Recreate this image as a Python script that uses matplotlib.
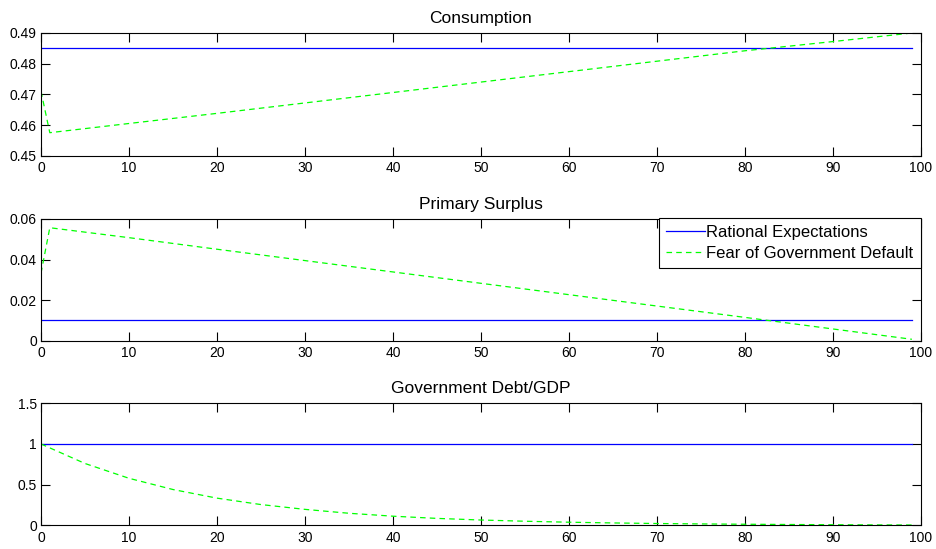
import numpy as np
import matplotlib
matplotlib.use("Agg")
import matplotlib.pyplot as plt

plt.rcParams['font.family'] = ['Liberation Sans', 'DejaVu Sans']
plt.rcParams['lines.scale_dashes'] = False

# periods and series
t_flat = [0, 99]
t_knots = [0, 1, 10, 20, 30, 40, 50, 60, 70, 80, 90, 99]

cons_re = [0.485, 0.485]
cons_fear = [0.471, 0.4575, 0.4605, 0.4638, 0.4672, 0.4706, 0.4740, 0.4774, 0.4808, 0.4842, 0.4872, 0.4900]

surplus_re = [0.01, 0.01]
surplus_fear = [0.0333, 0.0557, 0.0508, 0.0451, 0.0395, 0.0339, 0.0283, 0.0227, 0.0171, 0.0115, 0.0058, 0.0007]

t_debt = [0, 5, 10, 15, 20, 25, 30, 35, 40, 45, 50, 55, 60, 65, 70, 75, 80, 85, 90, 95, 99]
debt_re = [1.0, 1.0]
debt_fear = [1.0, 0.76, 0.578, 0.44, 0.334, 0.255, 0.196, 0.148, 0.112, 0.085, 0.065,
             0.05, 0.038, 0.029, 0.022, 0.017, 0.013, 0.01, 0.007, 0.005, 0.004]

titles = ['Consumption', 'Primary Surplus', 'Government Debt/GDP']
yticks = [[0.45, 0.46, 0.47, 0.48, 0.49], [0, 0.02, 0.04, 0.06], [0, 0.5, 1, 1.5]]
ylabels = [['0.45', '0.46', '0.47', '0.48', '0.49'], ['0', '0.02', '0.04', '0.06'], ['0', '0.5', '1', '1.5']]

fig = plt.figure(figsize=(9.36, 5.49), dpi=100)
W, H = 936, 549
boxes = [(41, 33, 920.7, 155.7), (41, 219, 920.7, 340.7), (41, 403.3, 920.7, 525.3)]
axes = []
for (x0, y0, x1, y1) in boxes:
    axes.append(fig.add_axes([x0 / W, 1 - y1 / H, (x1 - x0) / W, (y1 - y0) / H]))

data = [
    (t_flat, cons_re, t_knots, cons_fear),
    (t_flat, surplus_re, t_knots, surplus_fear),
    (t_flat, debt_re, t_debt, debt_fear),
]

for i, ax in enumerate(axes):
    tr, yr, tf, yf = data[i]
    ax.plot(tr, yr, color='#0000ff', lw=0.9, label='Rational Expectations')
    ax.plot(tf, yf, color='#00ff00', lw=0.9, dashes=(4, 3), label='Fear of Government Default')
    ax.set_xlim(0, 100)
    ax.set_ylim(yticks[i][0], yticks[i][-1])
    ax.set_xticks(range(0, 101, 10))
    ax.set_yticks(yticks[i])
    ax.set_yticklabels(ylabels[i])
    ax.tick_params(direction='in', length=6.5, width=0.8, top=True, right=True,
                   labelsize=10, colors='black')
    ax.tick_params(axis='x', pad=4)
    ax.tick_params(axis='y', pad=3)
    for s in ax.spines.values():
        s.set_linewidth(0.8)
    ax.set_title(titles[i], fontsize=12.5, pad=7.5)

# legend sits in the primary surplus panel
leg = axes[1].legend(loc='upper right', bbox_to_anchor=(1.0, 1.012), borderaxespad=0,
                     fontsize=12, frameon=True, fancybox=False, edgecolor='black',
                     framealpha=1, handlelength=2.35, handletextpad=0.05,
                     borderpad=0.45, labelspacing=0.35)
leg.get_frame().set_linewidth(0.8)

fig.savefig('out.png', dpi=100)
